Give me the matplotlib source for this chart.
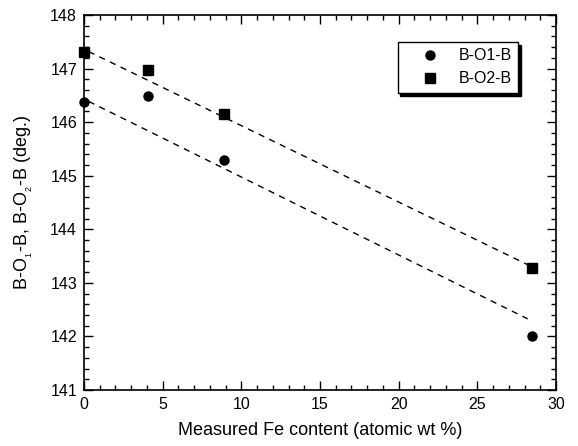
import matplotlib.pyplot as plt
import numpy as np
from matplotlib.ticker import MultipleLocator

plt.rcParams['font.family'] = ['Liberation Sans', 'DejaVu Sans']
plt.rcParams['mathtext.fontset'] = 'custom'
plt.rcParams['mathtext.rm'] = 'Liberation Sans'
plt.rcParams['mathtext.it'] = 'Liberation Sans'

fe_content = [0.0, 4.05, 8.9, 28.5]      # measured Fe (atomic wt %)
b_o1_b = [146.38, 146.48, 145.29, 142.01]  # deg.
b_o2_b = [147.30, 146.98, 146.16, 143.28]  # deg.

# dashed guide lines (intercept, slope)
fit_o1 = [146.43, -0.1455]
fit_o2 = [147.36, -0.1426]
fit_range = [0.3, 28.2]

fig = plt.figure(figsize=(5.78, 4.46), dpi=100)
ax = fig.add_axes([0.1453, 0.1256, 0.8167, 0.8408])

xf = np.linspace(fit_range[0], fit_range[1], 50)
ax.plot(xf, fit_o1[0] + fit_o1[1] * xf, color='black', lw=1, dashes=(4.5, 4))
ax.plot(xf, fit_o2[0] + fit_o2[1] * xf, color='black', lw=1, dashes=(4.5, 4))

ax.plot(fe_content, b_o1_b, 'o', color='black', ms=6.5, label='B-O1-B', clip_on=False)
ax.plot(fe_content, b_o2_b, 's', color='black', ms=7, label='B-O2-B', clip_on=False)

ax.set_xlim(0, 30)
ax.set_ylim(141, 148)
ax.xaxis.set_major_locator(MultipleLocator(5))
ax.xaxis.set_minor_locator(MultipleLocator(1))
ax.yaxis.set_major_locator(MultipleLocator(1))
ax.yaxis.set_minor_locator(MultipleLocator(0.2))
ax.tick_params(which='both', direction='in', top=True, right=True, labelsize=11.5, width=1)
ax.tick_params(which='major', length=6.5, pad=5)
ax.tick_params(which='minor', length=3.5)
for s in ax.spines.values():
    s.set_linewidth(1.2)

ax.set_xlabel('Measured Fe content (atomic wt %)', fontsize=13, labelpad=7)
ax.set_ylabel('B-O$_{_1}$-B, B-O$_{_2}$-B (deg.)', fontsize=13, labelpad=11)

leg = ax.legend(loc='upper right', bbox_to_anchor=(0.9195, 0.928), fontsize=11.5,
                frameon=True, fancybox=False, shadow={'color': 'black', 'alpha': 1},
                edgecolor='black', handletextpad=0.2, borderpad=0.4, handlelength=3.2,
                borderaxespad=0)
leg.get_frame().set_linewidth(1)

plt.savefig('out.png', dpi=100)
